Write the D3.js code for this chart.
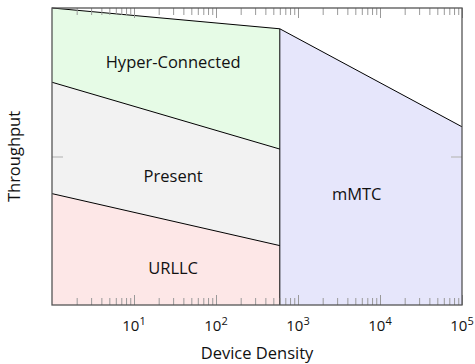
<!DOCTYPE html>
<html>
<head>
<meta charset="utf-8">
<script src="https://cdn.jsdelivr.net/npm/d3@7"></script>
<style>
  html, body { margin: 0; padding: 0; background: #fff; }
  svg text { font-family: "Open Sans", "DejaVu Sans", sans-serif; fill: #111; }
</style>
</head>
<body>
<svg id="chart" width="475" height="364"></svg>
<script>
// Service regions in the density/throughput plane
const regionNames = ["Hyper-Connected", "Present", "URLLC", "mMTC"];
const regionColors = ["#e6fbe6", "#f2f2f2", "#fde7e7", "#e6e6fb"];
// Boundary x positions (device density)
const densityStart = 1;
const densitySplit = 600;
const densityEnd = 1e5;
// Boundary heights (throughput) at the start and split densities
const topEdge = [10, 9.3];
const hyperPresentEdge = [7.5, 5.25];
const presentUrllcEdge = [3.75, 2];
const mmtcTopEdge = [9.3, 6];
// Label anchor points [density, throughput]
const labelPoints = [[30, 8.16], [30, 4.34], [30, 1.24], [5200, 3.74]];
const majorTicks = [1e1, 1e2, 1e3, 1e4, 1e5];
const majorExponents = [1, 2, 3, 4, 5];
const yTicks = [5];

const svg = d3.select("#chart");
const m = { left: 52, right: 13, top: 8, bottom: 59 };
const W = 475, H = 364;
const x = d3.scaleLog().domain([densityStart, densityEnd]).range([m.left, W - m.right]);
const y = d3.scaleLinear().domain([0, 10]).range([H - m.bottom, m.top]);

const polys = [
  [[densityStart, topEdge[0]], [densitySplit, topEdge[1]], [densitySplit, hyperPresentEdge[1]], [densityStart, hyperPresentEdge[0]]],
  [[densityStart, hyperPresentEdge[0]], [densitySplit, hyperPresentEdge[1]], [densitySplit, presentUrllcEdge[1]], [densityStart, presentUrllcEdge[0]]],
  [[densityStart, presentUrllcEdge[0]], [densitySplit, presentUrllcEdge[1]], [densitySplit, 0], [densityStart, 0]],
  [[densitySplit, mmtcTopEdge[0]], [densityEnd, mmtcTopEdge[1]], [densityEnd, 0], [densitySplit, 0]]
];
const line = d3.line().x(d => x(d[0])).y(d => y(d[1]));

svg.append("g").selectAll("path").data(polys).join("path")
  .attr("d", d => line(d) + "Z")
  .attr("fill", (d, i) => regionColors[i])
  .attr("stroke", "none");

// Boundary lines
const edges = [
  [[densityStart, topEdge[0]], [densitySplit, topEdge[1]], [densityEnd, mmtcTopEdge[1]]],
  [[densityStart, hyperPresentEdge[0]], [densitySplit, hyperPresentEdge[1]]],
  [[densityStart, presentUrllcEdge[0]], [densitySplit, presentUrllcEdge[1]]],
  [[densitySplit, topEdge[1]], [densitySplit, 0]]
];
svg.append("g").selectAll("path").data(edges).join("path")
  .attr("d", line)
  .attr("fill", "none")
  .attr("stroke", "#000")
  .attr("stroke-width", 1);

// Minor ticks on log axis
const minorTicks = [];
for (let e = 0; e < 5; e++) for (let k = 2; k <= 9; k++) minorTicks.push(k * Math.pow(10, e));

function tickAxis(axisFn, vals, size, yPos) {
  const g = svg.append("g").attr("transform", `translate(0,${yPos})`)
    .call(axisFn(x).tickValues(vals).tickSize(size).tickFormat(""));
  g.select(".domain").remove();
  g.selectAll("line").attr("stroke", "#999").attr("stroke-width", 1);
  return g;
}
tickAxis(d3.axisTop, minorTicks, 7, y(0));
tickAxis(d3.axisTop, majorTicks, 10, y(0));
tickAxis(d3.axisBottom, minorTicks, 7, y(10));
tickAxis(d3.axisBottom, majorTicks, 10, y(10));

// Y ticks (unlabelled), mirrored on both sides
[[d3.axisRight, m.left], [d3.axisLeft, W - m.right]].forEach(([fn, px]) => {
  const g = svg.append("g").attr("transform", `translate(${px},0)`)
    .call(fn(y).tickValues(yTicks).tickSize(11).tickFormat(""));
  g.select(".domain").remove();
  g.selectAll("line").attr("stroke", "#bbb").attr("stroke-width", 1.2);
});

// Frame
svg.append("rect")
  .attr("x", m.left).attr("y", m.top)
  .attr("width", W - m.left - m.right).attr("height", H - m.top - m.bottom)
  .attr("fill", "none").attr("stroke", "#555").attr("stroke-width", 1.3);

// Major tick labels with superscript exponents
const tl = svg.append("g").selectAll("text").data(majorTicks).join("text")
  .attr("x", d => x(d))
  .attr("y", y(0) + 26)
  .attr("text-anchor", "middle")
  .attr("font-size", 15);
tl.append("tspan").text("10");
tl.append("tspan").attr("dy", -6).attr("font-size", 11).text((d, i) => majorExponents[i]);

// Region labels
svg.append("g").selectAll("text").data(regionNames).join("text")
  .attr("x", (d, i) => x(labelPoints[i][0]))
  .attr("y", (d, i) => y(labelPoints[i][1]))
  .attr("dy", "0.35em")
  .attr("text-anchor", "middle")
  .attr("font-size", 16.5)
  .text(d => d);

// Axis titles
svg.append("text")
  .attr("x", (m.left + W - m.right) / 2).attr("y", 359)
  .attr("text-anchor", "middle").attr("font-size", 16.5)
  .text("Device Density");
svg.append("text")
  .attr("transform", `translate(20,${(m.top + H - m.bottom) / 2}) rotate(-90)`)
  .attr("text-anchor", "middle").attr("font-size", 16.5)
  .text("Throughput");
</script>
</body>
</html>
